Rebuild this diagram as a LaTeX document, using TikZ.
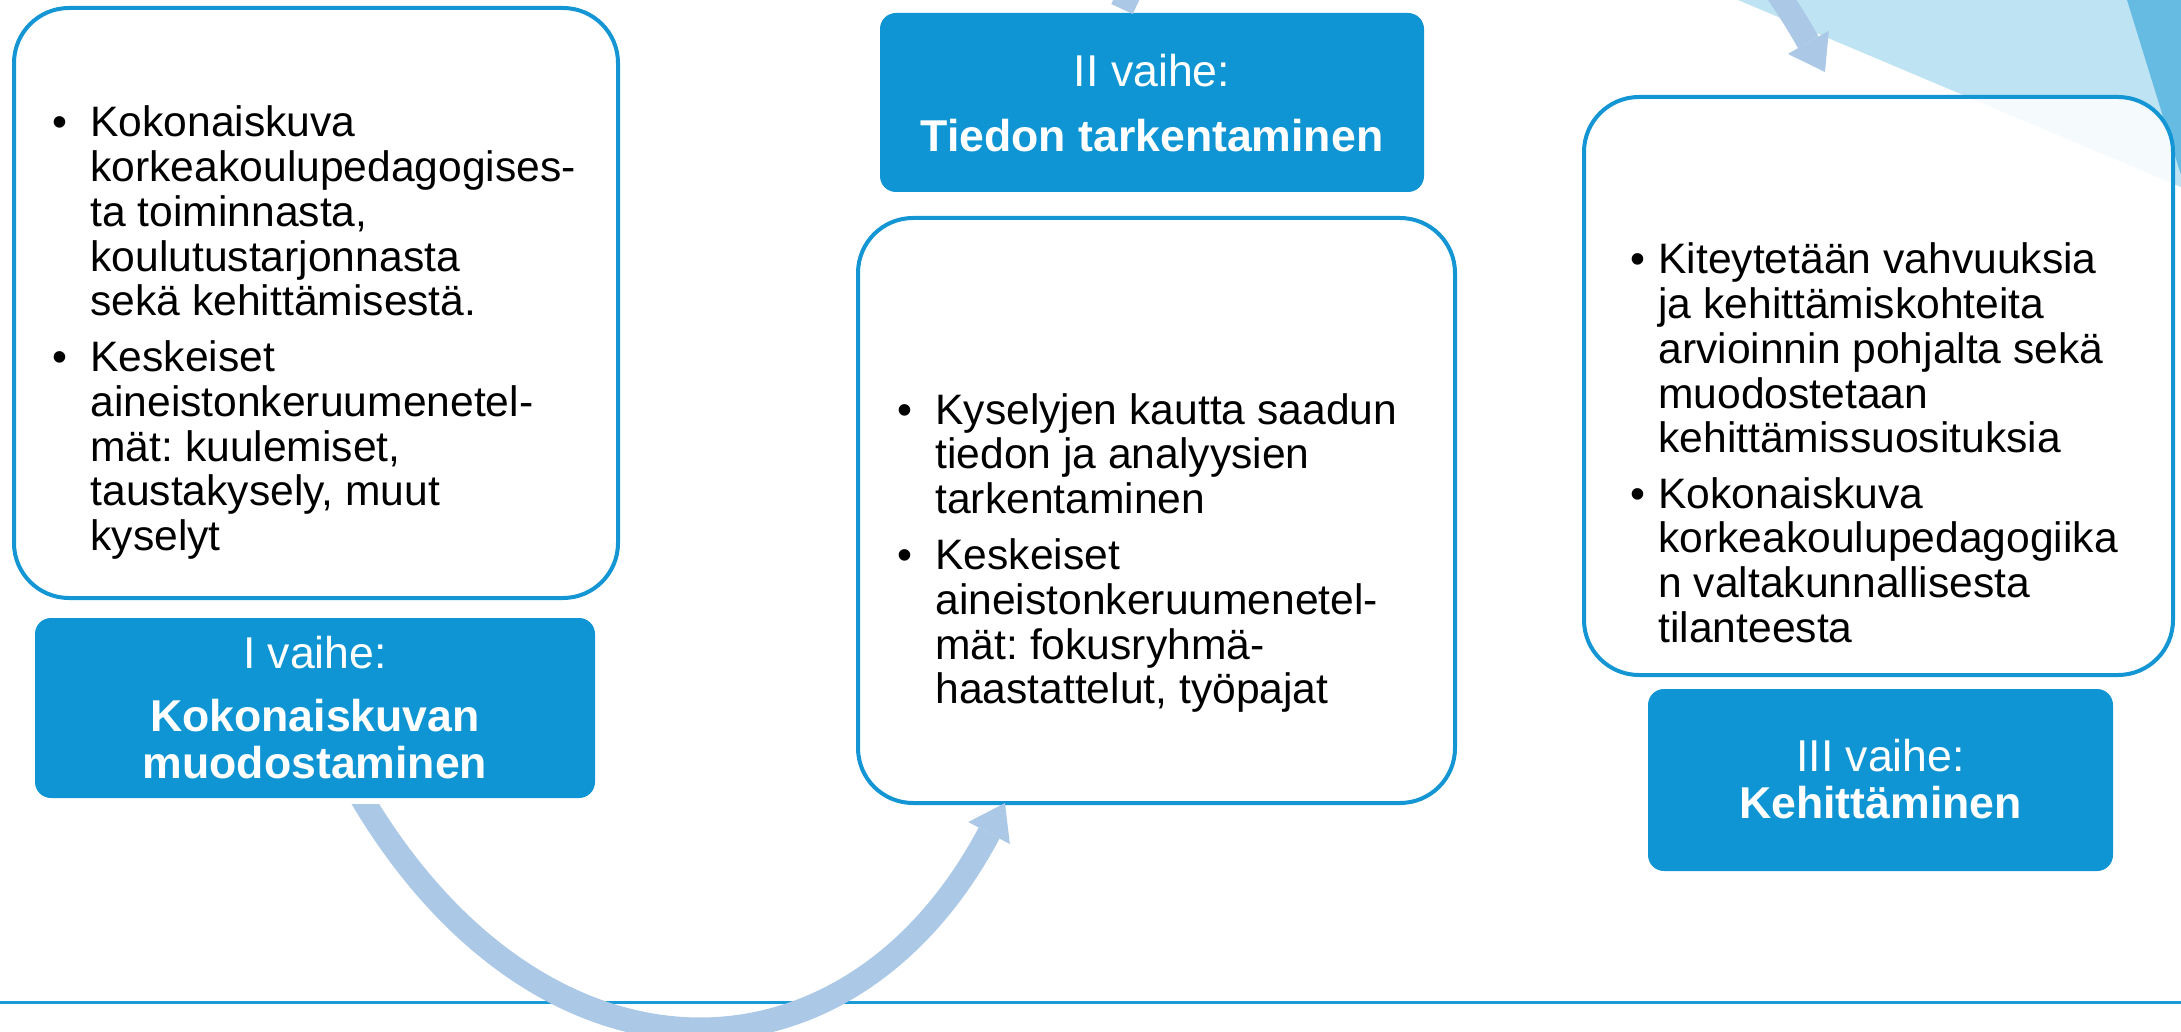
\documentclass[tikz,border=0pt]{standalone}
\usepackage{fontspec}
\setmainfont{Liberation Sans}
\usetikzlibrary{arrows.meta}
\definecolor{lblue}{RGB}{15,149,211}
\definecolor{bord}{RGB}{20,150,212}
\definecolor{arr}{RGB}{171,200,230}
\definecolor{tri}{RGB}{190,227,243}
\definecolor{trid}{RGB}{102,187,227}
\definecolor{hlinec}{RGB}{26,154,215}
\begin{document}
\frenchspacing
\begin{tikzpicture}[x=0.5pt,y=-0.5pt,
 bigbox/.style={draw=bord, line width=2pt, fill=white, rounded corners=27.5pt, inner sep=0pt},
 lab/.style={fill=lblue, rounded corners=8pt, inner sep=0pt},
 body/.style={inner sep=0pt, anchor=base west, text=black, font=\fontsize{21.3pt}{22.35pt}\selectfont\frenchspacing},
 labtxt/.style={inner sep=0pt, anchor=base, text=white, font=\fontsize{22.3pt}{24pt}\selectfont},
 labbold/.style={labtxt, font=\fontsize{22.3pt}{24pt}\selectfont\bfseries},
 shaft/.style={draw=arr, line width=11.8pt},
 flow/.style={shaft, -{Triangle[length=17pt,width=23.5pt,line width=0pt]}},
 rule/.style={draw=hlinec, line width=1.5pt}]
\useasboundingbox (0,0) rectangle (2181,1032);
\clip (0,0) rectangle (2181,1032);
\fill[white] (0,0) rectangle (2181,1032);
% decorative triangles
\fill[tri] (1738,0) -- (2181,0) -- (2181,187) -- cycle;
\fill[trid] (2127,0) -- (2181,0) -- (2181,175) -- cycle;
% bottom rule
\coordinate (r1) at (0,1002);
\coordinate (r2) at (2181,1002);
\draw[rule] (r1) -- (r2);
% big boxes
\node[bigbox, minimum width=302pt, minimum height=295pt] (b1) at (316,303) {};
\node[bigbox, minimum width=298.5pt, minimum height=292.5pt] (b2) at (1156.5,510.5) {};
\node[bigbox, fill opacity=0.85, minimum width=294.5pt, minimum height=289pt] (b3) at (1878.5,386) {};
% labels
\node[lab, minimum width=280pt, minimum height=90pt] (l1) at (315,708) {};
\node[lab, minimum width=272pt, minimum height=89.5pt] (l2) at (1152,102.5) {};
\node[lab, minimum width=232.5pt, minimum height=91pt] (l3) at (1880.5,780) {};
\node[labtxt] (l1a) at (315,668) {I vaihe:};
\node[labbold] (l1b) at (315,731) {Kokonaiskuvan};
\node[labbold] (l1c) at (315,778) {muodostaminen};
\node[labtxt] (l2a) at (1152,87) {II vaihe:};
\node[labbold] (l2b) at (1152,152) {Tiedon tarkentaminen};
\node[labtxt] (l3a) at (1880.5,771) {III vaihe:};
\node[labbold] (l3b) at (1880.5,818) {Kehittäminen};
% body texts
\node[body] (t1) at (52.5,137) {\begin{tabular}[t]{@{}p{18.8pt}@{}l@{}}
•&Kokonaiskuva\\
&korkeakoulupedagogises-\\
&ta toiminnasta,\\
&koulutustarjonnasta\\
&sekä kehittämisestä.\\[5.6pt]
•&Keskeiset\\
&aineistonkeruumenetel-\\
&mät: kuulemiset,\\
&taustakysely, muut\\
&kyselyt
\end{tabular}};
\node[body] (t2) at (897,424) {\begin{tabular}[t]{@{}p{19pt}@{}l@{}}
•&Kyselyjen kautta saadun\\
&tiedon ja analyysien\\
&tarkentaminen\\[5.8pt]
•&Keskeiset\\
&aineistonkeruumenetel-\\
&mät: fokusryhmä-\\
&haastattelut, työpajat
\end{tabular}};
\node[body] (t3) at (1630,274) {\begin{tabular}[t]{@{}p{14pt}@{}l@{}}
•&Kiteytetään vahvuuksia\\
&ja kehittämiskohteita\\
&arvioinnin pohjalta sekä\\
&muodostetaan\\
&kehittämissuosituksia\\[5.4pt]
•&Kokonaiskuva\\
&korkeakoulupedagogiika\\
&n valtakunnallisesta\\
&tilanteesta
\end{tabular}};
% arrows
\coordinate (a1s) at (357,790);
\coordinate (a1e) at (1005,803);
\begin{scope}
\clip (0,804) rectangle (700,1032) (700,780) rectangle (2181,1032);
\draw[flow] (a1s) .. controls (537,1102) and (847,1101) .. (a1e);
\end{scope}
\coordinate (a2s) at (1122,9);
\coordinate (a2e) at (1825,72);
\draw[flow] (a2s) .. controls (1269,-310) and (1629,-276) .. (a2e);
\end{tikzpicture}
\end{document}
